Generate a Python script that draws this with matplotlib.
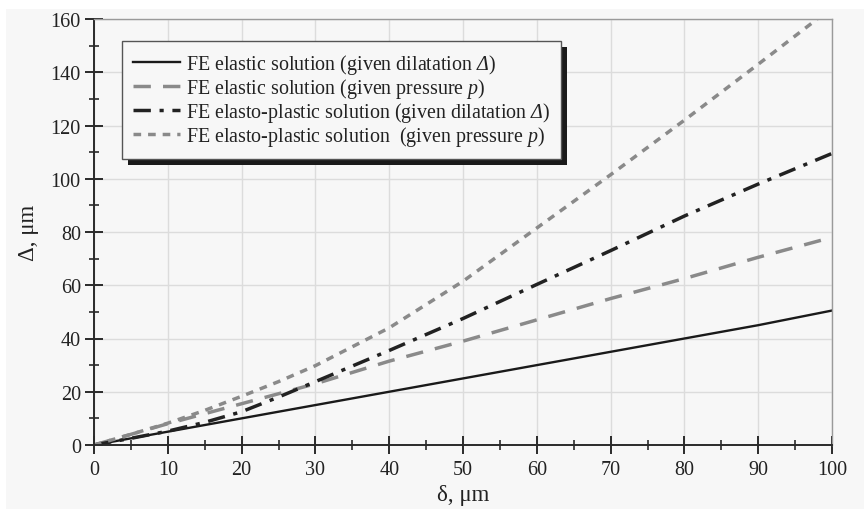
import matplotlib
matplotlib.use("Agg")
import matplotlib.pyplot as plt
from matplotlib.patches import Rectangle
from matplotlib.ticker import MultipleLocator

plt.rcParams['font.family'] = ['Liberation Serif', 'DejaVu Serif']
plt.rcParams['mathtext.fontset'] = 'custom'
plt.rcParams['mathtext.rm'] = 'Liberation Serif:italic'
plt.rcParams['mathtext.it'] = 'Liberation Serif:italic'

# data (delta, um) -> Delta, um
x_el_dil = [0, 10, 20, 30, 40, 50, 60, 70, 80, 90, 100]
y_el_dil = [0, 5, 10, 15, 20, 25, 30, 35, 40, 45, 50.5]

x_el_p = [0, 5, 10, 20, 30, 40, 50, 60, 70, 80, 90, 100]
y_el_p = [0, 4, 8, 15.5, 23, 31.5, 39, 47, 55, 62.5, 70.5, 78]

x_pl_dil = [0, 5, 10, 15, 20, 25, 30, 40, 50, 60, 70, 80, 90, 100]
y_pl_dil = [0, 2.5, 5.2, 8.5, 12.5, 18, 23.8, 35.5, 47.5, 60.3, 73, 86, 98, 109.5]

x_pl_p = [0, 5, 10, 15, 20, 25, 30, 40, 50, 60, 70, 80, 90, 98]
y_pl_p = [0, 4, 8.2, 13, 18.3, 23.8, 29.8, 44, 61.5, 81.5, 101.5, 122, 143, 160]

labels = [
    r"FE elastic solution (given dilatation $\Delta$)",
    r"FE elastic solution (given pressure $p$)",
    r"FE elasto-plastic solution (given dilatation $\Delta$)",
    r"FE elasto-plastic solution  (given pressure $p$)",
]

W, H = 864, 510
fig = plt.figure(figsize=(W/100, H/100), dpi=100, facecolor='white')
fig.patches.append(Rectangle((6/W, 0), 1, 1 - 10/H, transform=fig.transFigure,
                             facecolor='#f7f7f7', edgecolor='none', zorder=-10))
ax = fig.add_axes([94/W, (H-446)/H, (832-94)/W, (446-20)/H])
ax.set_facecolor('#f7f7f7')

l1, = ax.plot(x_el_dil, y_el_dil, color='#1a1a1a', lw=1.7, ls='-')
l2, = ax.plot(x_el_p, y_el_p, color='#8a8a8a', lw=2.5, dashes=(5, 3.5))
l3, = ax.plot(x_pl_dil, y_pl_dil, color='#222222', lw=2.5, dashes=(5, 2.5, 1.2, 2.5))
l4, = ax.plot(x_pl_p, y_pl_p, color='#8a8a8a', lw=2.5, dashes=(2.2, 2.0))

ax.set_xlim(0, 100)
ax.set_ylim(0, 160)
ax.xaxis.set_major_locator(MultipleLocator(10))
ax.xaxis.set_minor_locator(MultipleLocator(5))
ax.yaxis.set_major_locator(MultipleLocator(20))
ax.yaxis.set_minor_locator(MultipleLocator(10))
ax.grid(True, which='major', color='#dcdcdc', lw=1)
ax.set_axisbelow(True)

for s in ['top', 'right']:
    ax.spines[s].set_color('#9a9a9a')
    ax.spines[s].set_linewidth(1)
for s in ['left', 'bottom']:
    ax.spines[s].set_color('#2a2a2a')
    ax.spines[s].set_linewidth(1.4)

ax.tick_params(which='major', direction='inout', length=13, width=1.4, color='#2a2a2a',
               labelsize=14.5, labelcolor='#222222', pad=3)
ax.tick_params(which='minor', direction='inout', length=6.5, width=1.2, color='#2a2a2a')
ax.tick_params(axis='x', which='major', pad=4)

ax.set_xlabel("δ, μm", fontsize=16.5, color='#222222', labelpad=4)
ax.set_ylabel("Δ, μm", fontsize=16.5, color='#222222', labelpad=8)

leg = ax.legend([l1, l2, l3, l4], labels, loc='upper left',
                bbox_to_anchor=((122-94)/(832-94), 1 - (42-20)/(446-20)),
                fontsize=14.4, frameon=True, fancybox=False, framealpha=1,
                edgecolor='#555555', facecolor='#f7f7f7',
                handlelength=2.35, handletextpad=0.28, borderpad=0.55,
                labelspacing=0.0, borderaxespad=0)
leg.get_frame().set_linewidth(1)
for t in leg.get_texts():
    t.set_color('#222222')

fig.canvas.draw()
bb = leg.get_window_extent()
shadow = Rectangle((bb.x0 + 6, bb.y0 - 6), bb.width, bb.height,
                   transform=None, facecolor='#1a1a1a', edgecolor='none', zorder=4.9)
ax.add_artist(shadow)
leg.set_zorder(5)

fig.savefig("out.png", dpi=100, facecolor=fig.get_facecolor())
